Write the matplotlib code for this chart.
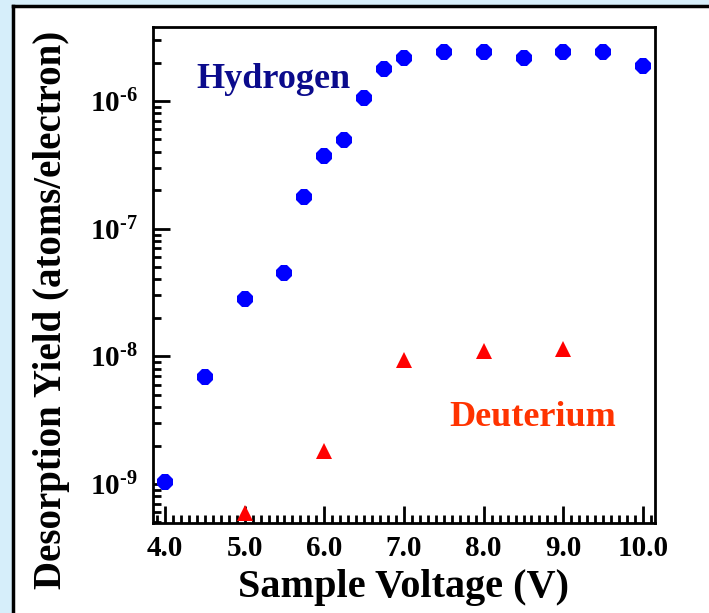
import matplotlib
matplotlib.use("Agg")
import matplotlib.pyplot as plt
from matplotlib.ticker import FixedLocator, LogLocator, NullFormatter, MultipleLocator
from matplotlib.lines import Line2D

# ---- data ----
h_voltage = [4.0, 4.5, 5.0, 5.5, 5.75, 6.0, 6.25, 6.5, 6.75, 7.0, 7.5, 8.0, 8.5, 9.0, 9.5, 10.0]
h_yield = [1.04e-9, 6.9e-9, 2.8e-8, 4.5e-8, 1.76e-7, 3.73e-7, 4.95e-7, 1.05e-6, 1.77e-6,
           2.16e-6, 2.41e-6, 2.41e-6, 2.16e-6, 2.41e-6, 2.41e-6, 1.89e-6]
d_voltage = [5.0, 6.0, 7.0, 8.0, 9.0]
d_yield = [5.96e-10, 1.82e-9, 9.4e-9, 1.10e-8, 1.15e-8]
x_ticks = [4.0, 5.0, 6.0, 7.0, 8.0, 9.0, 10.0]
x_tick_labels = ["4.0", "5.0", "6.0", "7.0", "8.0", "9.0", "10.0"]
y_ticks = [1e-9, 1e-8, 1e-7, 1e-6]
y_tick_labels = [r"$10^{\text{-9}}$", r"$10^{\text{-8}}$", r"$10^{\text{-7}}$", r"$10^{\text{-6}}$"]

plt.rcParams["font.family"] = ["Liberation Serif", "DejaVu Serif"]
plt.rcParams["font.weight"] = "bold"
plt.rcParams["mathtext.fontset"] = "custom"
plt.rcParams["mathtext.rm"] = "Liberation Serif:bold"
plt.rcParams["mathtext.bf"] = "Liberation Serif:bold"
plt.rcParams["mathtext.it"] = "Liberation Serif:bold"
plt.rcParams["mathtext.default"] = "rm"

W, H = 709, 613
fig = plt.figure(figsize=(W / 100, H / 100), dpi=100)
fig.patch.set_facecolor("#d6eefa")

# white panel with black top/left border
panel = plt.Rectangle((13 / W, 0), 1 - 13 / W, 1 - 6 / H, transform=fig.transFigure,
                      facecolor="white", edgecolor="none", zorder=-10)
fig.patches.append(panel)
fig.lines.append(Line2D([13 / W, 1], [1 - 6 / H, 1 - 6 / H], transform=fig.transFigure,
                        color="black", lw=2.5, zorder=-5))
fig.lines.append(Line2D([13 / W, 13 / W], [0, 1 - 6 / H], transform=fig.transFigure,
                        color="black", lw=2.5, zorder=-5))

ax = fig.add_axes([153 / W, 1 - 523 / H, (655 - 153) / W, (523 - 27) / H])
ax.set_facecolor("white")

ax.plot(h_voltage, h_yield, linestyle="none", marker="8", markersize=13,
        color="#0000ff", markeredgewidth=0, clip_on=False, zorder=3)
ax.plot(d_voltage, d_yield, linestyle="none", marker="^", markersize=12,
        color="#ff0000", markeredgewidth=0, clip_on=False, zorder=3)

ax.set_yscale("log")
ax.set_xlim(3.85, 10.15)
ax.set_ylim(4.95e-10, 3.8e-6)

ax.yaxis.set_major_locator(FixedLocator(y_ticks))
ax.set_yticklabels(y_tick_labels)
ax.yaxis.set_minor_locator(LogLocator(base=10, subs=range(2, 10)))
ax.yaxis.set_minor_formatter(NullFormatter())

ax.set_xticks(x_ticks)
ax.set_xticklabels(x_tick_labels)
ax.xaxis.set_minor_locator(MultipleLocator(0.1))

for s in ax.spines.values():
    s.set_linewidth(2)

ax.tick_params(axis="both", which="major", direction="in", length=12, width=2,
               labelsize=21, pad=9)
ax.tick_params(axis="both", which="minor", direction="in", length=6, width=2)
ax.tick_params(axis="y", which="major", pad=11, labelsize=21)

ax.set_xlabel("Sample Voltage (V)", fontsize=29, fontweight="bold", labelpad=5)
ax.set_ylabel("Desorption Yield (atoms/electron)", fontsize=28, fontweight="bold")
ax.yaxis.set_label_coords(-0.166, 0.43)

ax.text(5.36, 1.26e-6, "Hydrogen", color="#0b0b8c", fontsize=26, fontweight="bold",
        ha="center", va="baseline")
ax.text(8.61, 2.84e-9, "Deuterium", color="#ff3300", fontsize=26, fontweight="bold",
        ha="center", va="baseline")

fig.savefig("out.png", dpi=100, facecolor=fig.get_facecolor())
